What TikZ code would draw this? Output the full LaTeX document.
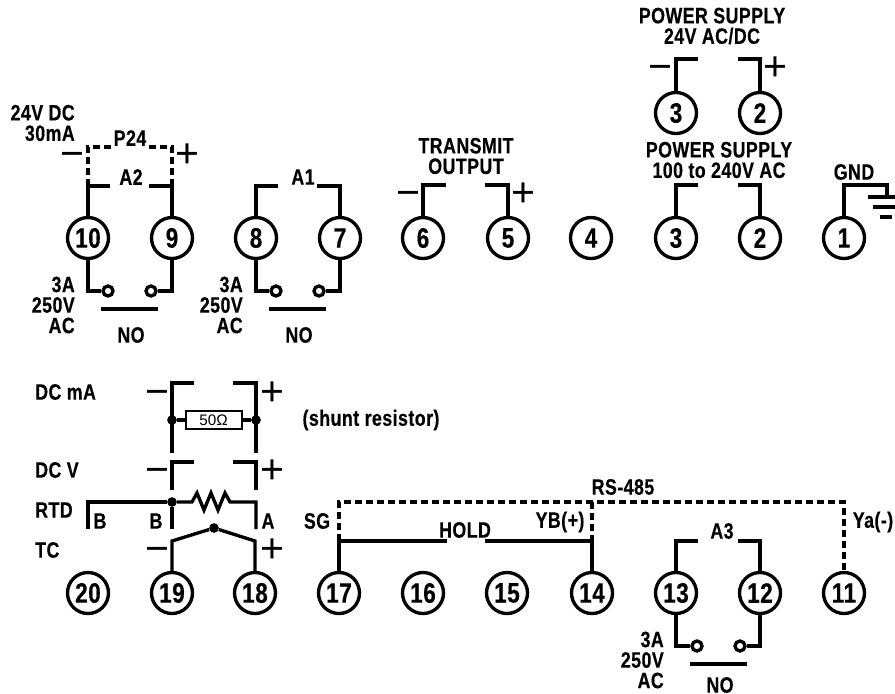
\documentclass[tikz,border=0pt]{standalone}
\usepackage{fontspec}
\setmainfont[FakeStretch=0.8,LetterSpace=2,BoldFeatures={FakeBold=0.4}]{Liberation Sans}
\newfontfamily\plainsans{Liberation Sans}
\usepackage{tikz}
\usetikzlibrary{positioning}

\tikzset{
    wire/.style={line width=1mm},
    dashwire/.style={line width=1mm, dash pattern=on 2.1mm off 1.2mm},
    term/.style={circle, draw, line width=1mm, minimum size=12.3mm, inner sep=0pt, fill=white,
        font=\fontsize{24}{24}\selectfont\bfseries},
    lbl/.style={inner sep=0pt, align=center, font=\fontsize{19}{17.5}\selectfont\bfseries},
    sign/.style={inner sep=0pt, anchor=base, yshift=-11.9pt, font=\plainsans\fontsize{35}{35}\selectfont},
    contact/.style={circle, draw, line width=1mm, minimum size=3mm, inner sep=0pt, fill=white},
    joint/.style={circle, fill, minimum size=2.9mm, inner sep=0pt}
}

\begin{document}
\begin{tikzpicture}[x=0.3mm,y=-0.3mm]
    \useasboundingbox (0,0) rectangle (895,694);

    \foreach \n/\x in {10/88,9/172,8/256,7/340,6/423,5/508,4/591,3/676,2/760,1/844}
        \node[term] (t\n) at (\x,238) {\n};
    \foreach \n/\x in {20/88,19/172,18/255,17/339,16/423,15/507,14/592,13/676,12/760,11/844}
        \node[term] (t\n) at (\x,593) {\n};
    \node[term] (p3) at (676,113) {3};
    \node[term] (p2) at (760,113) {2};

    \foreach \ta/\tb/\dx/\dy/\ny in {10/9/0/0/335,8/7/168/0/335,13/12/589/355/330} {
        \begin{scope}[shift={(\dx,\dy)}]
            \node[contact] (ca\ta) at (108,291) {};
            \node[contact] (cb\ta) at (151,291) {};
            \coordinate (ba\ta) at (101,309);
            \coordinate (bb\ta) at (158,309);
            \node[lbl, anchor=east, align=right] (amp\ta) at (75,305) {3A\\250V\\AC};
            \node[lbl] (no\ta) at (131,\ny) {NO};
        \end{scope}
        \draw[wire] (t\ta.south) |- (ca\ta);
        \draw[wire] (t\tb.south) |- (cb\ta);
        \draw[wire] (ba\ta) -- (bb\ta);
    }

    \node[lbl] (a2) at (131,177) {A2};
    \node[lbl] (a1) at (303,177) {A1};
    \node[lbl] (a3) at (722,531) {A3};
    \coordinate (a2l) at (110,186);
    \coordinate (a2r) at (149,186);
    \coordinate (a1l) at (278,186);
    \coordinate (a1r) at (317,186);
    \coordinate (a3l) at (698,541);
    \coordinate (a3r) at (738,541);
    \draw[wire] (t10.north) |- (a2l);
    \draw[wire] (t9.north) |- (a2r);
    \draw[wire] (t8.north) |- (a1l);
    \draw[wire] (t7.north) |- (a1r);
    \draw[wire] (t13.north) |- (a3l);
    \draw[wire] (t12.north) |- (a3r);

    \node[lbl, anchor=east, align=right] (dc24) at (75,123) {24V DC\\30mA};
    \node[lbl] (p24) at (130,138) {P24};
    \coordinate (p24l) at (112,147);
    \coordinate (p24r) at (148,147);
    \draw[dashwire] (t10.north |- a2l) |- (p24l);
    \draw[dashwire] (t9.north |- a2r) |- (p24r);
    \node[sign] (p24m) at (72,154) {−};
    \node[sign] (p24p) at (187,154) {+};

    \node[lbl] (tx) at (466,156) {TRANSMIT\\OUTPUT};
    \coordinate (txl) at (446,185);
    \coordinate (txr) at (485,185);
    \draw[wire] (t6.north) |- (txl);
    \draw[wire] (t5.north) |- (txr);
    \node[sign] (txm) at (408,193) {−};
    \node[sign] (txp) at (523,193) {+};

    \node[lbl] (ps24) at (712,26) {POWER SUPPLY\\24V AC/DC};
    \coordinate (psl) at (698,59);
    \coordinate (psr) at (738,59);
    \draw[wire] (p3.north) |- (psl);
    \draw[wire] (p2.north) |- (psr);
    \node[sign] (psm) at (660,67) {−};
    \node[sign] (psp) at (775,67) {+};

    \node[lbl] (ps100) at (719,160) {POWER SUPPLY\\100 to 240V AC};
    \coordinate (acl) at (698,185);
    \coordinate (acr) at (738,185);
    \draw[wire] (t3.north) |- (acl);
    \draw[wire] (t2.north) |- (acr);

    \node[lbl] (gnd) at (854,172) {GND};
    \coordinate (gr1) at (887,197);
    \draw[wire] (t1.north) |- (887,185) -- (gr1);
    \draw[wire] (868,197) -- (895,197);
    \draw[wire] (873,207) -- (895,207);
    \draw[wire] (880,217) -- (892,217);

    \node[lbl, anchor=west] (dcma) at (35,392) {DC mA};
    \node[lbl, anchor=west] (dcv) at (35,470) {DC V};
    \node[lbl, anchor=west] (rtd) at (35,510) {RTD};
    \node[lbl, anchor=west] (tc) at (35,550) {TC};

    \coordinate (mal) at (194,383);
    \coordinate (mar) at (233,383);
    \coordinate (mab) at (172,453);
    \coordinate (mac) at (256,453);
    \draw[wire] (mab) |- (mal);
    \draw[wire] (mac) |- (mar);
    \node[sign] (mam) at (157,392) {−};
    \node[sign] (map) at (272,392) {+};
    \node[joint] (jl) at (172,420) {};
    \node[joint] (jr) at (256,420) {};
    \node[draw, line width=0.6mm, minimum width=16.8mm, minimum height=5.2mm, inner sep=0pt,
        font=\plainsans\fontsize{13}{13}\selectfont] (shunt) at (213.5,420) {50Ω};
    \draw[wire] (jl) -- (shunt);
    \draw[wire] (shunt) -- (jr);
    \node[lbl] (shunttxt) at (371,420) {(shunt resistor)};

    \coordinate (vl) at (194,462);
    \coordinate (vr) at (233,462);
    \coordinate (vb) at (172,490);
    \coordinate (vc) at (256,490);
    \draw[wire] (vb) |- (vl);
    \draw[wire] (vc) |- (vr);
    \node[sign] (vm) at (157,470) {−};
    \node[sign] (vp) at (272,470) {+};

    \node[joint] (jb) at (172,502) {};
    \coordinate (rb) at (88,529);
    \coordinate (rc) at (172,529);
    \coordinate (ra) at (256,529);
    \draw[wire] (rb) |- (jb);
    \draw[wire] (jb) -- (rc);
    \draw[wire] (jb) -- (192,502) -- (197,493) -- (204,510) -- (211,493) -- (218,510) -- (225,493)
        -- (230,502) -- (256,502) -- (ra);
    \node[lbl] (lb1) at (100,521) {B};
    \node[lbl] (lb2) at (156,521) {B};
    \node[lbl] (la) at (268,521) {A};

    \node[joint] (jt) at (214,528) {};
    \draw[wire] (t19.north) |- (172,541) -- (jt);
    \draw[wire] (t18.north) |- (255,541) -- (jt);
    \node[sign] (tcm) at (157,549) {−};
    \node[sign] (tcp) at (272,549) {+};

    \node[lbl] (sg) at (317,521) {SG};
    \node[lbl] (hold) at (465,530) {HOLD};
    \node[lbl] (rs) at (623,487) {RS-485};
    \node[lbl] (yb) at (560,522) {YB(+)};
    \node[lbl] (ya) at (873,522) {Ya(-)};
    \coordinate (hl) at (447,541);
    \coordinate (hr) at (485,541);
    \coordinate (rs17) at (339,502);
    \coordinate (rs14) at (592,502);
    \coordinate (rs11) at (844,502);
    \draw[wire] (t17.north) |- (hl);
    \draw[wire] (t14.north) |- (hr);
    \draw[dashwire] (t17.north |- hl) -- (rs17) -- (rs11) -- (t11.north);
    \draw[dashwire] (rs14) -- (t14.north |- hr);
\end{tikzpicture}
\end{document}
